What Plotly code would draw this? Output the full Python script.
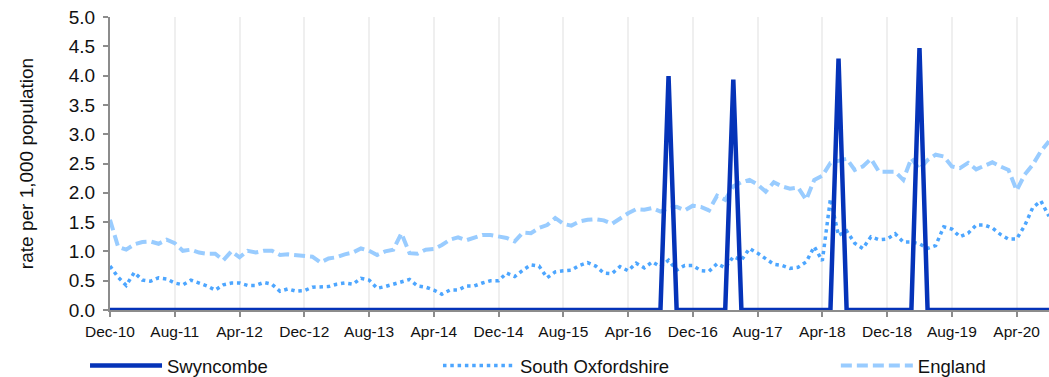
import pandas as pd
import plotly.graph_objects as go

# Monthly categories Dec-10 .. Aug-20
months = [d.strftime("%b-%y") for d in pd.date_range("2010-12-01", "2020-08-01", freq="MS")]
tick_labels = months[::8]

swyncombe = [0.0] * len(months)
swyncombe_spikes = {"Sep-16": 3.99, "May-17": 3.93, "Jun-18": 4.29, "Apr-19": 4.47}
for m, v in swyncombe_spikes.items():
    swyncombe[months.index(m)] = v

south_oxfordshire = [
    0.75, 0.56, 0.42, 0.64, 0.51, 0.49, 0.55, 0.53, 0.46, 0.43,
    0.51, 0.46, 0.41, 0.34, 0.43, 0.46, 0.46, 0.42, 0.42, 0.47,
    0.44, 0.32, 0.36, 0.32, 0.33, 0.39, 0.39, 0.40, 0.44, 0.46,
    0.44, 0.54, 0.51, 0.37, 0.40, 0.44, 0.48, 0.52, 0.41, 0.39,
    0.34, 0.27, 0.34, 0.34, 0.41, 0.41, 0.46, 0.50, 0.50, 0.63,
    0.57, 0.68, 0.77, 0.75, 0.55, 0.65, 0.67, 0.68, 0.76, 0.81,
    0.75, 0.63, 0.62, 0.74, 0.67, 0.80, 0.72, 0.82, 0.74, 0.85,
    0.68, 0.76, 0.76, 0.67, 0.66, 0.79, 0.72, 0.91, 0.85, 1.05,
    0.97, 0.87, 0.78, 0.76, 0.71, 0.73, 0.82, 1.08, 0.84, 1.90,
    1.27, 1.35, 1.14, 1.05, 1.25, 1.20, 1.21, 1.30, 1.16, 1.16,
    1.13, 1.05, 1.10, 1.42, 1.38, 1.25, 1.31, 1.45, 1.45, 1.40,
    1.29, 1.21, 1.21, 1.44, 1.75, 1.86, 1.60,
]

england = [
    1.54, 1.08, 1.03, 1.12, 1.16, 1.17, 1.13, 1.20, 1.14, 1.01,
    1.03, 0.98, 0.96, 0.96, 0.85, 1.00, 0.90, 1.01, 0.98, 1.01,
    1.01, 0.94, 0.95, 0.94, 0.92, 0.91, 0.81, 0.88, 0.90, 0.95,
    0.98, 1.05, 1.01, 0.94, 1.00, 1.03, 1.31, 0.97, 0.96, 1.03,
    1.04, 1.11, 1.20, 1.24, 1.19, 1.24, 1.28, 1.28, 1.25, 1.23,
    1.17, 1.32, 1.31, 1.40, 1.45, 1.57, 1.47, 1.44, 1.51, 1.54,
    1.55, 1.53, 1.47, 1.57, 1.65, 1.72, 1.71, 1.74, 1.68, 1.74,
    1.76, 1.70, 1.78, 1.76, 1.70, 1.95, 1.88, 2.11, 2.18, 2.22,
    2.14, 2.02, 2.18, 2.11, 2.07, 2.09, 1.88, 2.22, 2.29, 2.51,
    2.55, 2.58, 2.39, 2.45, 2.58, 2.36, 2.36, 2.36, 2.22, 2.59,
    2.40, 2.56, 2.65, 2.62, 2.45, 2.42, 2.51, 2.40, 2.46, 2.52,
    2.45, 2.39, 2.04, 2.31, 2.48, 2.71, 2.88,
]

FONT = "Liberation Sans, Arial, sans-serif"
C_SWY = "#0533b8"
C_SO = "#4da6ff"
C_ENG = "#99ccff"

fig = go.Figure()
fig.add_trace(go.Scatter(
    x=months, y=england, name="England", mode="lines",
    line=dict(color=C_ENG, width=4, dash="11px,5px"), legend="legend3",
))
fig.add_trace(go.Scatter(
    x=months, y=south_oxfordshire, name="South Oxfordshire", mode="lines",
    line=dict(color=C_SO, width=3.5, dash="3.5px,3.8px"), legend="legend2",
))
fig.add_trace(go.Scatter(
    x=months, y=swyncombe, name="Swyncombe", mode="lines",
    line=dict(color=C_SWY, width=4.5), legend="legend",
))

leg_common = dict(orientation="h", yanchor="middle", xanchor="left",
                  font=dict(family=FONT, size=18.5, color="#111"),
                  bgcolor="rgba(0,0,0,0)", itemwidth=72)
LEG_Y = -0.191
fig.update_layout(
    width=1049, height=377,
    margin=dict(l=110, r=0, t=17, b=67, autoexpand=False),
    paper_bgcolor="white", plot_bgcolor="white",
    font=dict(family=FONT, color="#111"),
    showlegend=True,
    legend=dict(x=-0.0266, y=LEG_Y, **leg_common),
    legend2=dict(x=0.3493, y=LEG_Y, **leg_common),
    legend3=dict(x=0.773, y=LEG_Y, **leg_common),
    xaxis=dict(
        type="category", range=[0, len(months) - 1], automargin=False,
        tickmode="array", tickvals=tick_labels, ticktext=tick_labels,
        tickfont=dict(family=FONT, size=15.5, color="#111"),
        showgrid=True, gridcolor="#efefef", gridwidth=1.5,
        showline=True, linecolor="#8c8c8c", linewidth=2,
        ticks="outside", ticklen=5, tickcolor="#8c8c8c", tickwidth=1.5,
        ticklabelstandoff=1,
        layer="below traces", zeroline=False,
    ),
    yaxis=dict(
        range=[0, 5], dtick=0.5, tickformat=".1f", automargin=False,
        tickfont=dict(family=FONT, size=19, color="#111"),
        ticklabeloverflow="allow",
        showgrid=False, zeroline=False,
        showline=True, linecolor="#8c8c8c", linewidth=2,
        ticks="outside", ticklen=5, tickcolor="#8c8c8c", tickwidth=1.5,
        ticklabelstandoff=4,
        title=dict(text="rate per 1,000 population", font=dict(family=FONT, size=19, color="#111"), standoff=30),
        layer="below traces",
    ),
)

fig.write_html(
    "out.html",
    config={"displayModeBar": False},
    post_script="document.body.style.margin='0';document.body.style.overflow='hidden';",
)
